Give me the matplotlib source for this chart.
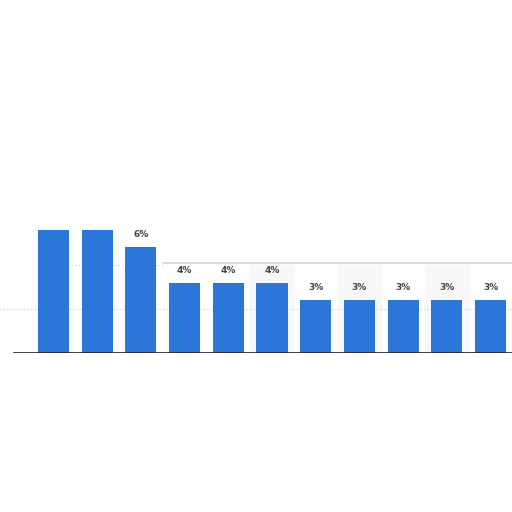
import numpy as np
import matplotlib
matplotlib.use('Agg')
import matplotlib.pyplot as plt

values = [7, 7, 6, 4, 4, 4, 3, 3, 3, 3, 3]
labels = ['', '', '6%', '4%', '4%', '4%', '3%', '3%', '3%', '3%', '3%']

bar_color = '#2b76d8'

fig = plt.figure(figsize=(5.12, 5.12), dpi=100)
fig.patch.set_facecolor('white')

# axes covers the full width, bottom at the baseline (y=353 px from top)
ax = fig.add_axes([0, (512 - 353) / 512, 1, 353 / 512])
px_per_pct = 17.6
ax.set_ylim(0, 353 / px_per_pct)
step = 43.7
first = 53.5
ax.set_xlim(-first / step, (512 - first) / step)

x = np.arange(len(values))

# faint alternating column shading
for i in x:
    if i % 2 == 1 and i >= 5:
        ax.axvspan(i - 0.5, i + 0.5, ymin=0, ymax=5 / ax.get_ylim()[1],
                   color='#f8f8f8', zorder=0)

ax.axhline(2.5, color='#cccccc', lw=0.8, ls=(0, (1, 2)), zorder=1)
ax.plot([0.5, 2.5], [5, 5], color='#cccccc', lw=0.8, ls=(0, (1, 2)), zorder=1)
ax.plot([2.5, 12], [5.1, 5.1], color='#d2d2d2', lw=1.1, zorder=1)

bars = ax.bar(x, values, width=0.71, color=bar_color, zorder=2)
for i, (b, lab) in enumerate(zip(bars, labels)):
    if lab:
        ax.text(b.get_x() + b.get_width() / 2, b.get_height() + 0.45, lab,
                ha='center', va='bottom', fontsize=6.5, fontweight='bold',
                color='#444444')

ax.plot([-0.9, 12], [0, 0], color='#222222', lw=1.2, zorder=3)

for s in ax.spines.values():
    s.set_visible(False)
ax.set_xticks([])
ax.set_yticks([])

fig.savefig('out.png', dpi=100, facecolor='white')
